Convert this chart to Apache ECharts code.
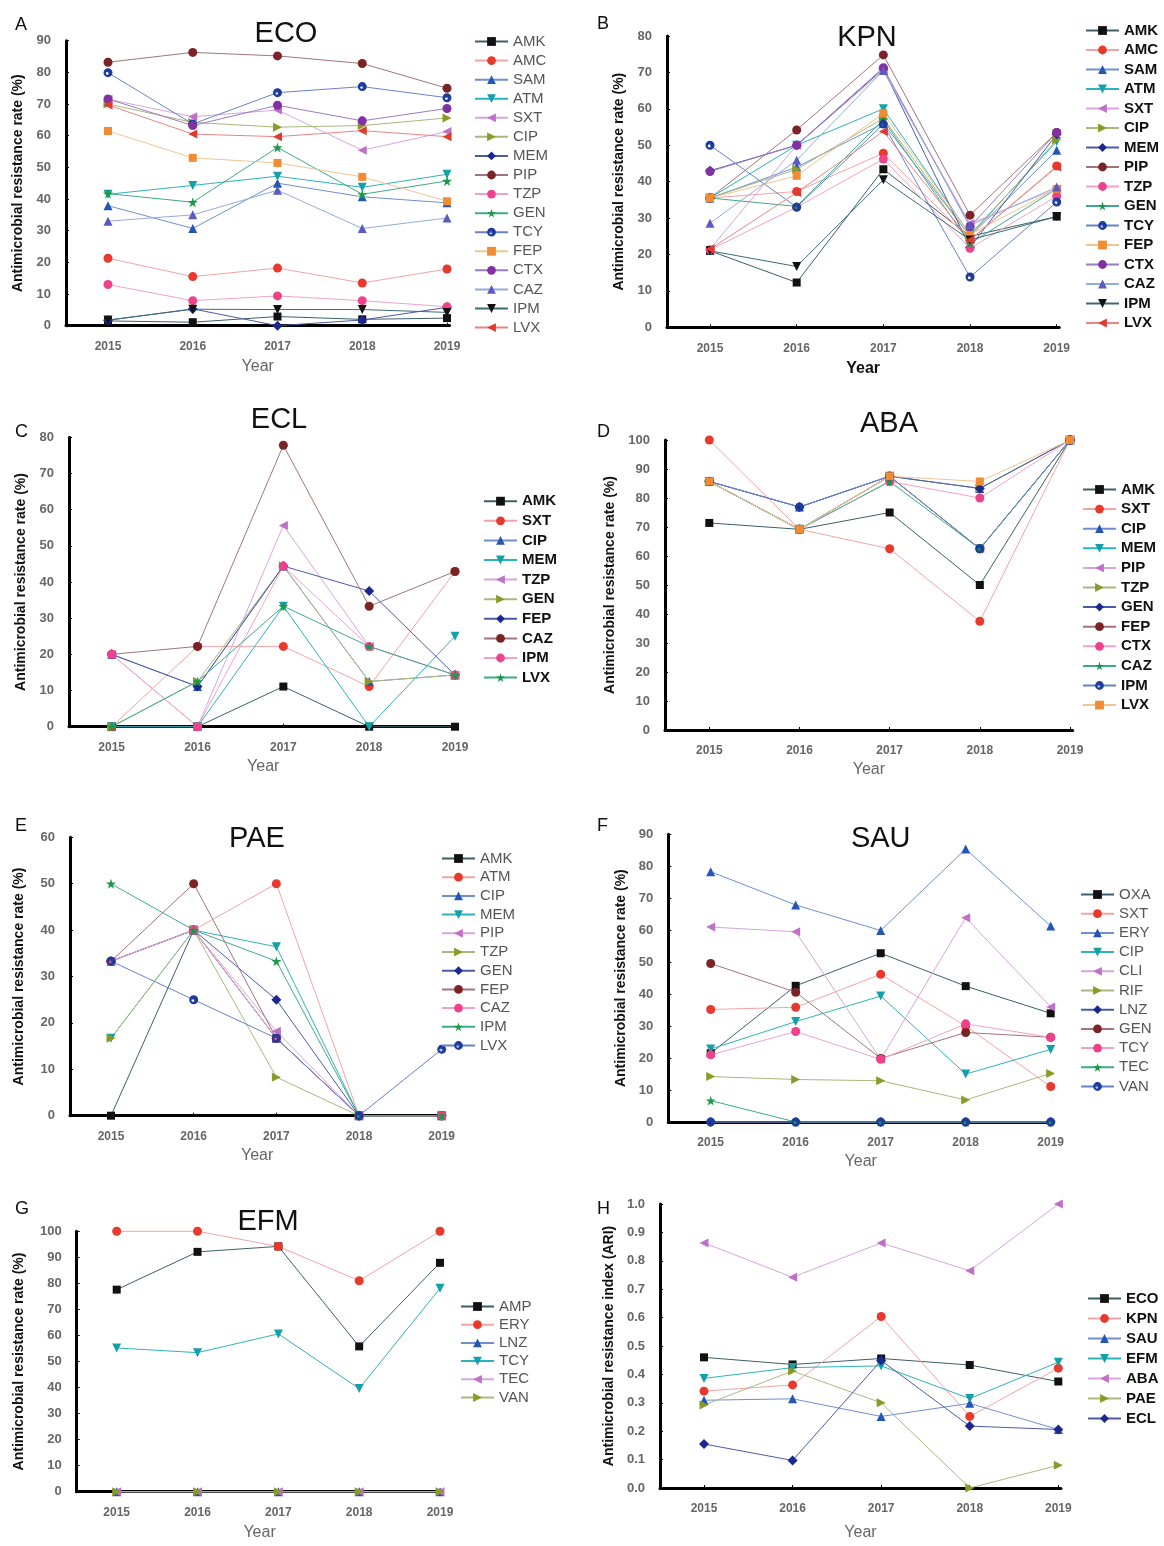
<!DOCTYPE html>
<html>
<head>
<meta charset="utf-8">
<script src="https://cdn.jsdelivr.net/npm/echarts@6/dist/echarts.min.js"></script>
<style>
body { margin: 0; background: #fff; }
.panel { position: absolute; }
</style>
</head>
<body>
<div id="pA" class="panel"></div>
<div id="pB" class="panel"></div>
<div id="pC" class="panel"></div>
<div id="pD" class="panel"></div>
<div id="pE" class="panel"></div>
<div id="pF" class="panel"></div>
<div id="pG" class="panel"></div>
<div id="pH" class="panel"></div>
<script>
var years = [2015, 2016, 2017, 2018, 2019];

// A - ECO
var ecoDrugs = ['AMK', 'AMC', 'SAM', 'ATM', 'SXT', 'CIP', 'MEM', 'PIP', 'TZP', 'GEN', 'TCY', 'FEP', 'CTX', 'CAZ', 'IPM', 'LVX'];
var ecoRates = [
    [1.5, 1.1, 2.9, 2.0, 2.4],
    [21.3, 15.5, 18.2, 13.5, 17.9],
    [37.9, 30.7, 45.0, 40.7, 38.8],
    [41.5, 44.3, 47.2, 43.7, 47.8],
    [71.5, 66.0, 68.1, 55.4, 61.3],
    [70.0, 64.2, 62.7, 63.2, 65.6],
    [1.7, 5.3, 0, 1.8, 5.8],
    [83.2, 86.3, 85.2, 82.8, 75.0],
    [13.0, 7.9, 9.4, 7.9, 6.0],
    [41.7, 39.0, 56.3, 41.5, 45.7],
    [79.9, 63.7, 73.6, 75.5, 72.0],
    [61.5, 53.0, 51.4, 47.0, 39.3],
    [71.6, 63.2, 69.6, 64.7, 68.6],
    [33.0, 35.0, 42.8, 30.7, 34.0],
    [1.8, 5.2, 5.1, 5.1, 4.2],
    [69.7, 60.5, 59.7, 61.6, 59.7]
];

// B - KPN
var kpnDrugs = ['AMK', 'AMC', 'SAM', 'ATM', 'SXT', 'CIP', 'MEM', 'PIP', 'TZP', 'GEN', 'TCY', 'FEP', 'CTX', 'CAZ', 'IPM', 'LVX'];
var kpnRates = [
    [21.0, 12.3, 43.4, 25.0, 30.4],
    [35.5, 37.3, 47.8, 24.0, 44.3],
    [35.5, 44.0, 56.0, 25.0, 48.6],
    [35.5, 50.0, 60.0, 25.5, 51.0],
    [21.5, 50.0, 70.5, 28.5, 38.0],
    [35.5, 43.4, 57.4, 25.0, 51.5],
    [43.0, 50.0, 71.0, 22.0, 53.0],
    [35.5, 54.2, 74.8, 30.8, 53.5],
    [21.3, 33.0, 46.2, 21.7, 36.0],
    [35.5, 33.2, 57.0, 23.0, 38.0],
    [50.0, 33.0, 55.8, 13.8, 34.4],
    [35.5, 41.6, 58.8, 25.5, 38.0],
    [42.8, 50.0, 71.3, 27.6, 53.5],
    [28.6, 45.9, 70.5, 28.0, 38.5],
    [21.0, 16.7, 40.5, 24.0, 30.4],
    [21.5, 37.0, 53.8, 24.0, 44.0]
];

// C - ECL
var eclDrugs = ['AMK', 'SXT', 'CIP', 'MEM', 'TZP', 'GEN', 'FEP', 'CAZ', 'IPM', 'LVX'];
var eclRates = [
    [0, 0, 11.1, 0, 0],
    [0, 22.2, 22.2, 11.1, 42.9],
    [20, 11.1, 44.4, 12.5, 14.3],
    [0, 0, 33.3, 0, 25],
    [20, 0, 55.6, 22.2, 14.3],
    [0, 12.5, 44.4, 12.5, 14.3],
    [20, 11.1, 44.4, 37.5, 14.3],
    [20, 22.2, 77.8, 33.3, 42.9],
    [20, 0, 44.4, 22.2, 14.3],
    [0, 12.5, 33.3, 22.2, 14.3]
];

// D - ABA
var abaDrugs = ['AMK', 'SXT', 'CIP', 'MEM', 'PIP', 'TZP', 'GEN', 'FEP', 'CTX', 'CAZ', 'IPM', 'LVX'];
var abaRates = [
    [71.4, 69.2, 75.0, 50.0, 100],
    [100, 69.2, 62.5, 37.5, 100],
    [85.7, 76.9, 87.5, 83.3, 100],
    [85.7, 69.2, 87.5, 62.5, 100],
    [85.7, 69.2, 87.5, 62.5, 100],
    [85.7, 69.2, 87.5, 83.3, 100],
    [85.7, 76.9, 87.5, 83.3, 100],
    [85.7, 69.2, 87.5, 62.5, 100],
    [85.7, 69.2, 85.7, 80.0, 100],
    [85.7, 69.2, 85.7, 62.5, 100],
    [85.7, 76.9, 87.5, 62.5, 100],
    [85.7, 69.2, 87.5, 85.7, 100]
];

// E - PAE
var paeDrugs = ['AMK', 'ATM', 'CIP', 'MEM', 'PIP', 'TZP', 'GEN', 'FEP', 'CAZ', 'IPM', 'LVX'];
var paeRates = [
    [0, 40, 16.7, 0, 0],
    [33.3, 40, 50, 0, 0],
    [33.3, 40, 16.7, 0, 0],
    [16.7, 40, 36.4, 0, 0],
    [33.3, 40, 18.2, 0, 0],
    [16.7, 40, 8.3, 0, 0],
    [33.3, 40, 25, 0, 0],
    [33.3, 50, 16.7, 0, 0],
    [33.3, 40, 16.7, 0, 0],
    [50, 40, 33.3, 0, 0],
    [33.3, 25, 16.7, 0, 14.3]
];

// F - SAU
var sauDrugs = ['OXA', 'SXT', 'ERY', 'CIP', 'CLI', 'RIF', 'LNZ', 'GEN', 'TCY', 'TEC', 'VAN'];
var sauRates = [
    [21.5, 42.6, 52.8, 42.5, 34.0],
    [35.2, 35.9, 46.2, 30.0, 11.1],
    [78.3, 67.9, 59.9, 85.4, 61.3],
    [22.8, 31.4, 39.4, 15.0, 22.7],
    [61.0, 59.5, 19.6, 63.9, 36.0],
    [14.2, 13.3, 12.9, 6.9, 15.2],
    [0, 0, 0, 0, 0],
    [49.6, 40.6, 19.9, 28.0, 26.5],
    [21.0, 28.3, 19.6, 30.7, 26.5],
    [6.7, 0, 0, 0, 0],
    [0, 0, 0, 0, 0]
];

// G - EFM
var efmDrugs = ['AMP', 'ERY', 'LNZ', 'TCY', 'TEC', 'VAN'];
var efmRates = [
    [77.6, 92.1, 94.2, 55.8, 87.9],
    [100, 100, 94.2, 81.0, 100],
    [0, 0, 0, 0, 0],
    [55.2, 53.4, 60.6, 39.6, 78.1],
    [0, 0, 0, 0, 0],
    [0, 0, 0, 0, 0]
];

// H - ARI
var ariBugs = ['ECO', 'KPN', 'SAU', 'EFM', 'ABA', 'PAE', 'ECL'];
var ariValues = [
    [0.46, 0.435, 0.456, 0.433, 0.375],
    [0.341, 0.363, 0.604, 0.252, 0.422],
    [0.309, 0.314, 0.252, 0.298, 0.206],
    [0.386, 0.424, 0.43, 0.315, 0.443],
    [0.863, 0.742, 0.863, 0.765, 1.0],
    [0.292, 0.412, 0.30, 0, 0.08],
    [0.155, 0.097, 0.449, 0.218, 0.206]
];

var star = 'path://M50,0 L61,35 L98,35 L68,57 L79,91 L50,70 L21,91 L32,57 L2,35 L39,35 Z';
// filled disc with a small white hole (TCY style marker)
var dotted = 'path://M0,50 A50,50 0 1,1 100,50 A50,50 0 1,1 0,50 Z M26,58 A16,16 0 1,0 58,58 A16,16 0 1,0 26,58 Z';
var marks = [
    { symbol: 'rect', color: '#111', line: '#3d5f66', size: 8 },
    { symbol: 'circle', color: '#e8392c', line: '#f2a4a4' },
    { symbol: 'triangle', color: '#2456b4', line: '#6f8fd0' },
    { symbol: 'triangle', rot: 180, color: '#14a0a8', line: '#2eb2ba' },
    { symbol: 'triangle', rot: 90, color: '#c070c8', line: '#d6a6dc' },
    { symbol: 'triangle', rot: -90, color: '#8a9a28', line: '#a9b97c' },
    { symbol: 'diamond', color: '#1a2890', line: '#4a5aa8', size: 10 },
    { symbol: 'circle', color: '#7a2428', line: '#a0747a' },
    { symbol: 'circle', color: '#f0428c', line: '#f2a2c8' },
    { symbol: star, color: '#1a9a48', line: '#3faa8a', size: 10 },
    { symbol: dotted, color: '#1e3c9c', line: '#6582c8' },
    { symbol: 'rect', color: '#f08c34', line: '#f2c494', size: 8 },
    { symbol: 'circle', color: '#8232a0', line: '#9a7cc2' },
    { symbol: 'triangle', color: '#5a5ac0', line: '#94acd8' },
    { symbol: 'triangle', rot: 180, color: '#111', line: '#3d6b72' },
    { symbol: 'triangle', rot: 90, color: '#e03a30', line: '#ea8484' }
];

var panels = [
    { id: 'pA', box: [0, 0], letter: 'A', letterY: 21.5, title: 'ECO', titleX: 281, titleY: 29,
      names: ecoDrugs, values: ecoRates, yMax: 90, yStep: 10,
      axisX: 66, x2015: 108, x2019: 447, y0: 325.7, yTop: 40.7,
      legX: 469, legY: 36, legGap: 18.07, bold: false, yNameX: 20, yearY: 367, yearBold: false },
    { id: 'pB', box: [582, 0], letter: 'B', letterY: 20.5, title: 'KPN', titleX: 862, titleY: 33,
      names: kpnDrugs, values: kpnRates, yMax: 80, yStep: 10,
      axisX: 667, x2015: 710, x2019: 1056.7, y0: 327.3, yTop: 36,
      legX: 1080, legY: 25, legGap: 18.5, bold: true, yNameX: 623, yearY: 369, yearBold: true },
    { id: 'pC', box: [0, 390], letter: 'C', letterY: 427.7, title: 'ECL', titleX: 274, titleY: 415,
      names: eclDrugs, values: eclRates, yMax: 80, yStep: 10,
      axisX: 69, x2015: 111.7, x2019: 455, y0: 726.7, yTop: 437.3,
      legX: 478, legY: 495.7, legGap: 18.6, bold: true, yNameX: 21, yearY: 767, yearBold: false },
    { id: 'pD', box: [582, 390], letter: 'D', letterY: 428.5, title: 'ABA', titleX: 884, titleY: 419.5,
      names: abaDrugs, values: abaRates, yMax: 100, yStep: 10,
      axisX: 665, x2015: 709.3, x2019: 1070, y0: 730, yTop: 440,
      legX: 1077, legY: 484, legGap: 18.6, bold: true, yNameX: 610, yearY: 768, yearBold: false },
    { id: 'pE', box: [0, 790], letter: 'E', letterY: 822, title: 'PAE', titleX: 252, titleY: 834.5,
      names: paeDrugs, values: paeRates, yMax: 60, yStep: 10,
      axisX: 70, x2015: 111, x2019: 441.7, y0: 1115.7, yTop: 837.3,
      legX: 436, legY: 853, legGap: 17.7, bold: false, yNameX: 19, yearY: 1153, yearBold: false },
    { id: 'pF', box: [582, 790], letter: 'F', letterY: 821.7, title: 'SAU', titleX: 875.7, titleY: 834,
      names: sauDrugs, values: sauRates, yMax: 90, yStep: 10,
      axisX: 668.3, x2015: 710.7, x2019: 1050.7, y0: 1122, yTop: 834.3,
      legX: 1075, legY: 889, legGap: 18.2, bold: false, yNameX: 622, yearY: 1160, yearBold: false },
    { id: 'pG', box: [0, 1180], letter: 'G', letterY: 1205, title: 'EFM', titleX: 263, titleY: 1217.5,
      names: efmDrugs, values: efmRates, yMax: 100, yStep: 10,
      axisX: 76.7, x2015: 116.7, x2019: 440, y0: 1496.7, yTop: 1231.3,
      legX: 455, legY: 1301, legGap: 17.2, bold: false, yNameX: 19, yearY: 1538, yearBold: false },
    { id: 'pH', box: [582, 1180], letter: 'H', letterY: 1205, title: '', titleX: 0, titleY: 0,
      names: ariBugs, values: ariValues, yMax: 1, yStep: 0.1, ari: true,
      axisX: 660, x2015: 704, x2019: 1058.3, y0: 1495, yTop: 1204,
      legX: 1082, legY: 1293, legGap: 19, bold: true, yNameX: 610, yearY: 1540, yearBold: false }
];

var font = '"Liberation Sans", Arial, sans-serif';
var narrow = '"Liberation Sans Narrow", "Liberation Sans", Arial, sans-serif';
var PW = 582, PH = [390, 400, 390, 366];

panels.forEach(function (p, k) {
    var ox = p.box[0], oy = p.box[1];
    var dom = document.getElementById(p.id);
    var h = PH[Math.floor(k / 2)];
    dom.style.left = ox + 'px';
    dom.style.top = oy + 'px';
    dom.style.width = PW + 'px';
    dom.style.height = h + 'px';
    var chart = echarts.init(dom);

    var step = (p.x2019 - p.x2015) / 4;
    var xMin = 2015 - (p.x2015 - p.axisX) / step;
    var xMax = 2019.03;

    var series = p.names.map(function (n, i) {
        var m = marks[i];
        return {
            name: n,
            type: 'line',
            clip: false,
            data: years.map(function (y, j) { return [y, p.values[i][j]]; }),
            symbol: m.symbol,
            symbolRotate: m.rot || 0,
            symbolSize: m.size || 9,
            lineStyle: { color: m.line, width: 1 },
            itemStyle: { color: m.color, borderWidth: 0 },
            emphasis: { disabled: true }
        };
    });

    var titles = [{
        text: p.letter, left: 10, top: p.letterY - oy - 10,
        textStyle: { fontFamily: font, fontSize: 18, fontWeight: 'normal', color: '#111' }
    }];
    if (p.title) {
        titles.push({
            text: p.title, left: p.titleX - ox, top: p.titleY - oy - 15, textAlign: 'center',
            textStyle: { fontFamily: font, fontSize: 29, fontWeight: 'normal', color: '#111' }
        });
    }

    var grey = '#666';
    var option = {
        animation: false,
        backgroundColor: 'transparent',
        title: titles,
        legend: {
            orient: 'vertical',
            left: p.legX - ox,
            top: p.legY - oy - 7,
            itemWidth: 33,
            itemHeight: 11,
            itemGap: p.legGap - 14,
            selectedMode: false,
            data: p.names,
            textStyle: {
                fontFamily: font,
                fontSize: 15,
                lineHeight: 14,
                fontWeight: p.bold ? 'bold' : 'normal',
                color: p.bold ? '#111' : '#555'
            }
        },
        grid: {
            left: p.axisX - ox,
            top: p.yTop - oy,
            width: (xMax - xMin) * step,
            height: p.y0 - p.yTop
        },
        xAxis: {
            type: 'value',
            min: xMin,
            max: xMax,
            name: 'Year',
            nameLocation: 'middle',
            nameGap: p.yearY - p.y0 - 8,
            nameTextStyle: {
                fontFamily: font, fontSize: 16,
                fontWeight: p.yearBold ? 'bold' : 'normal',
                color: p.yearBold ? '#111' : grey
            },
            axisLine: { onZero: false, lineStyle: { color: '#000', width: 3 } },
            axisTick: { customValues: years, inside: true, length: 3, lineStyle: { color: '#000' } },
            axisLabel: {
                customValues: years, margin: 15, color: grey,
                fontFamily: font, fontSize: 12, fontWeight: 'bold',
                formatter: function (v) { return String(Math.round(v)); }
            },
            splitLine: { show: false }
        },
        yAxis: {
            type: 'value',
            min: 0,
            max: p.yMax,
            interval: p.yStep,
            name: p.ari ? 'Antimicrobial resistance index (ARI)' : 'Antimicrobial resistance rate (%)',
            nameLocation: 'middle',
            nameGap: p.axisX - p.yNameX - 7,
            nameTextStyle: { fontFamily: narrow, fontSize: 14, fontWeight: 'bold', color: '#111' },
            axisLine: { show: true, onZero: false, lineStyle: { color: '#000', width: 3 } },
            axisTick: { show: true, inside: true, length: 3, lineStyle: { color: '#000' } },
            axisLabel: {
                margin: 15, color: grey, fontFamily: font, fontSize: 13, fontWeight: 'bold',
                formatter: function (v) { return p.ari ? v.toFixed(1) : String(Math.round(v)); }
            },
            splitLine: { show: false }
        },
        series: series
    };
    chart.setOption(option);
});
</script>
</body>
</html>
